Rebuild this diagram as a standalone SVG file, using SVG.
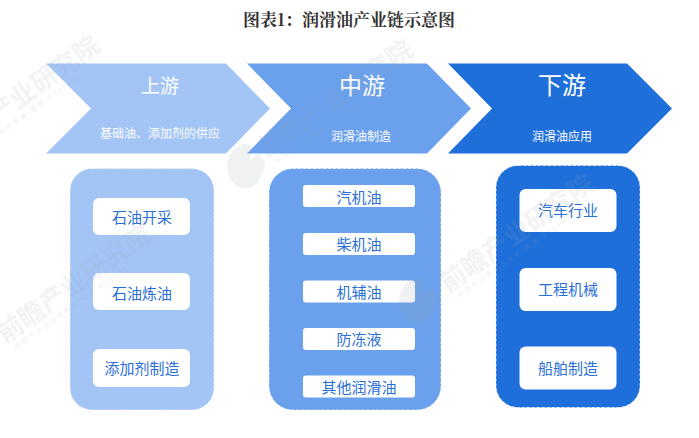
<svg xmlns="http://www.w3.org/2000/svg" width="699" height="438" viewBox="0 0 699 438">
<style>
text{font-family:"Liberation Sans","Noto Sans CJK SC",sans-serif;text-anchor:middle}
.t{font-family:"Noto Serif CJK SC","Noto Sans CJK SC",serif;font-size:17px;font-weight:700;fill:#333}
.h{fill:#fff;font-size:23px}
.s{fill:#fff;font-size:12px}
.b{fill:#fff}
.l{fill:#2a6fd6;font-size:15px}
.p{stroke:#fff;stroke-opacity:.65;stroke-dasharray:3 2;stroke-width:1}
.wm{fill:#9aa3ad;fill-opacity:.15;font-size:26px;font-weight:700;text-anchor:start}
.ws{fill:#9aa3ad;fill-opacity:.2;font-size:6.500px;letter-spacing:2.200px;text-anchor:start}
.c1{fill:#a2c5f6}.c2{fill:#6ba1ec}.c3{fill:#1f6fda}
</style>
<rect width="699" height="438" fill="#fff"/>
<text class="t" x="349" y="26">图表1：润滑油产业链示意图</text>
<g id="col1-head"><polygon class="c1" points="46,63.5 226,63.5 270,108.5 226,153.5 46,153.5 91,108.5"/>
<text class="h" x="160" y="93" style="font-size:19px">上游</text><text class="s" x="160" y="138">基础油、添加剂的供应</text></g>
<g id="col2-head"><polygon class="c2" points="247,63.5 427,63.5 471,108.5 427,153.5 247,153.5 291,108.5"/>
<text class="h" x="362" y="94">中游</text><text class="s" x="361" y="141">润滑油制造</text></g>
<g id="col3-head"><polygon class="c3" points="448,63.5 627,63.5 672,108.5 627,153.5 448,153.5 492,108.5"/>
<text class="h" x="562" y="94" style="font-size:24px">下游</text><text class="s" x="562" y="141">润滑油应用</text></g>
<g id="col1"><rect class="c1 p" x="70" y="168.500" width="144" height="241.500" rx="22"/>
<rect class="b" x="93" y="198" width="97" height="37" rx="6"/><text class="l" x="142" y="223">石油开采</text>
<rect class="b" x="93" y="273" width="97" height="37" rx="6"/><text class="l" x="142" y="299">石油炼油</text>
<rect class="b" x="93" y="349" width="97" height="38" rx="6"/><text class="l" x="142" y="374">添加剂制造</text></g>
<g id="col2"><rect class="c2 p" x="269" y="168.500" width="172" height="241.500" rx="24"/>
<rect class="b" x="303" y="185" width="112" height="22" rx="3"/><text class="l" x="359" y="203">汽机油</text>
<rect class="b" x="303" y="233" width="112" height="22" rx="3"/><text class="l" x="359" y="250">柴机油</text>
<rect class="b" x="303" y="280.500" width="112" height="22" rx="3"/><text class="l" x="359" y="298">机辅油</text>
<rect class="b" x="303" y="328" width="112" height="22" rx="3"/><text class="l" x="359" y="345">防冻液</text>
<rect class="b" x="303" y="375.500" width="112" height="22" rx="3"/><text class="l" x="359" y="393">其他润滑油</text></g>
<g id="col3"><rect class="c3 p" x="496" y="165.500" width="144" height="242" rx="22"/>
<rect class="b" x="519.500" y="189" width="97" height="43" rx="6"/><text class="l" x="568" y="216">汽车行业</text>
<rect class="b" x="519.500" y="268" width="97" height="43" rx="6"/><text class="l" x="568" y="295">工程机械</text>
<rect class="b" x="519.500" y="346.500" width="97" height="43" rx="6"/><text class="l" x="568" y="374">船舶制造</text></g>
<g id="watermarks">
<g transform="translate(-46 155) rotate(-35.500)"><text class="wm" x="0" y="0">前瞻产业研究院</text><text class="ws" x="6" y="11">中国产业咨询领导者(股票:839599)</text></g>
<g transform="translate(266 158) rotate(-35)"><text class="wm" x="0" y="0">前瞻产业研究院</text><text class="ws" x="6" y="11">中国产业咨询领导者(股票:839599)</text></g>
<g transform="translate(5 344) rotate(-35.500)"><text class="wm" x="0" y="0">前瞻产业研究院</text><text class="ws" x="6" y="11">中国产业咨询领导者(股票:839599)</text></g>
<g transform="translate(448 293) rotate(-35.500)"><text class="wm" x="0" y="0">前瞻产业研究院</text><text class="ws" x="6" y="11">中国产业咨询领导者(股票:839599)</text></g>
<path d="M252 146a18 22 0 1 0 6 36l8-18-8-10-8 6 2-14z" fill="#9aa3ad" fill-opacity=".15"/>
<path d="M424 280a18 22 0 1 0 6 36l8-18-8-10-8 6 2-14z" fill="#9aa3ad" fill-opacity=".15"/>
</g>
</svg>
